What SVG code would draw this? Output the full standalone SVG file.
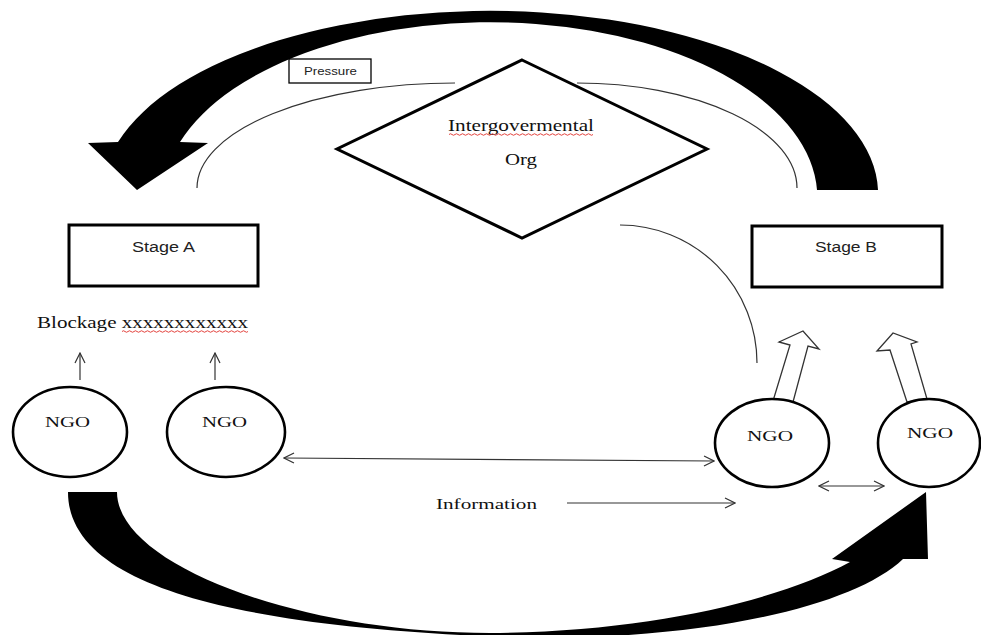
<svg xmlns="http://www.w3.org/2000/svg" width="981" height="635" viewBox="0 0 981 635">
<defs>
<style>
.serif{font-family:"Liberation Serif","Times New Roman",serif;fill:#111;}
.sans{font-family:"Liberation Sans",Arial,sans-serif;fill:#222;}
.box{fill:#fff;stroke:#000;stroke-width:3;}
.ngo{fill:#fff;stroke:#000;stroke-width:2.6;}
.thin{fill:none;stroke:#333;stroke-width:1.2;}
.big{fill:#000;stroke:none;}
.hollow{fill:#fff;stroke:#333;stroke-width:1.3;stroke-linejoin:miter;}
.squig{fill:none;stroke:#e0302a;stroke-width:0.9;}
</style>
<marker id="v" viewBox="0 0 12 12" refX="11" refY="6" markerWidth="12" markerHeight="12" markerUnits="userSpaceOnUse" orient="auto-start-reverse">
<path d="M1,1 L11,6 L1,11" fill="none" stroke="#333" stroke-width="1.2"/>
</marker>
</defs>

<g id="connectors">
<path id="top-arrow" class="big" d="M878,190 A388,183 0 0 0 118,142 L88,143 L137,190 L208,143 L180,142 A327,175 0 0 1 817,190 Z"/>
<path id="bottom-arrow" class="big" d="M68,492 L117,492 C117,565 300,633 490,633 C650,632 780,600 850,562 L832,559 L926,492 L928,559 L903,559 C850,610 680,646 480,636 C250,625 68,590 68,492 Z"/>
<path class="thin" d="M455,83 A258,105 0 0 0 197,188"/>
<path class="thin" d="M577,83 A220,105 0 0 1 797,188"/>
<path class="thin" d="M620,225 A137,138 0 0 1 757,363"/>
<line class="thin" x1="80" y1="380" x2="80" y2="353" marker-end="url(#v)"/>
<line class="thin" x1="215" y1="380" x2="215" y2="353" marker-end="url(#v)"/>
<line class="thin" x1="284" y1="458" x2="714" y2="461" marker-start="url(#v)" marker-end="url(#v)"/>
<line class="thin" x1="567" y1="503" x2="735" y2="503" marker-end="url(#v)"/>
<line class="thin" x1="819" y1="486" x2="884" y2="486" marker-start="url(#v)" marker-end="url(#v)"/>
<polygon class="hollow" points="773,401 790,345 779,342 803,331 819,349 808,346 793,402"/>
<polygon class="hollow" points="907,402 890,350 877,351 893,333 917,342 911,344 927,399"/>
</g>

<g id="pressure">
<rect x="289" y="59" width="82" height="24" fill="#fff" stroke="#000" stroke-width="1.3"/>
<text class="sans" x="304" y="75" font-size="11" textLength="53" lengthAdjust="spacingAndGlyphs">Pressure</text>
</g>

<g id="igo">
<polygon class="box" points="522,60 707,149 522,238 337,149"/>
<text class="serif" x="448" y="131" font-size="17" textLength="146" lengthAdjust="spacingAndGlyphs">Intergovermental</text>
<path class="squig" d="M449,134.5 q1.5,-1.5 3,0 t3,0 t3,0 t3,0 t3,0 t3,0 t3,0 t3,0 t3,0 t3,0 t3,0 t3,0 t3,0 t3,0 t3,0 t3,0 t3,0 t3,0 t3,0 t3,0 t3,0 t3,0 t3,0 t3,0 t3,0 t3,0 t3,0 t3,0 t3,0 t3,0 t3,0 t3,0 t3,0 t3,0 t3,0 t3,0 t3,0 t3,0 t3,0 t3,0 t3,0 t3,0 t3,0 t3,0 t3,0 t3,0 t3,0 t3,0"/>
<text class="serif" x="505" y="165" font-size="17" textLength="32" lengthAdjust="spacingAndGlyphs">Org</text>
</g>

<g id="stage-a">
<rect class="box" x="69" y="225" width="189" height="61"/>
<text class="sans" x="132" y="252" font-size="14" textLength="63" lengthAdjust="spacingAndGlyphs">Stage A</text>
</g>

<g id="stage-b">
<rect class="box" x="752" y="226" width="190" height="61"/>
<text class="sans" x="815" y="252" font-size="14" textLength="62" lengthAdjust="spacingAndGlyphs">Stage B</text>
</g>

<g id="blockage">
<text class="serif" x="37" y="328" font-size="17" textLength="211" lengthAdjust="spacingAndGlyphs">Blockage xxxxxxxxxxxx</text>
<path class="squig" d="M122,331.5 q1.5,-1.5 3,0 t3,0 t3,0 t3,0 t3,0 t3,0 t3,0 t3,0 t3,0 t3,0 t3,0 t3,0 t3,0 t3,0 t3,0 t3,0 t3,0 t3,0 t3,0 t3,0 t3,0 t3,0 t3,0 t3,0 t3,0 t3,0 t3,0 t3,0 t3,0 t3,0 t3,0 t3,0 t3,0 t3,0 t3,0 t3,0 t3,0 t3,0 t3,0 t3,0 t3,0 t3,0"/>
</g>

<g id="ngo-1">
<ellipse class="ngo" cx="70" cy="432" rx="57" ry="45"/>
<text class="serif" x="45" y="427" font-size="15" textLength="45" lengthAdjust="spacingAndGlyphs">NGO</text>
</g>
<g id="ngo-2">
<ellipse class="ngo" cx="226" cy="432" rx="59" ry="45"/>
<text class="serif" x="202" y="427" font-size="15" textLength="45" lengthAdjust="spacingAndGlyphs">NGO</text>
</g>
<g id="ngo-3">
<ellipse class="ngo" cx="772" cy="443" rx="57" ry="44"/>
<text class="serif" x="747" y="441" font-size="15" textLength="46" lengthAdjust="spacingAndGlyphs">NGO</text>
</g>
<g id="ngo-4">
<ellipse class="ngo" cx="929" cy="443" rx="51" ry="44"/>
<text class="serif" x="907" y="438" font-size="15" textLength="46" lengthAdjust="spacingAndGlyphs">NGO</text>
</g>

<g id="information">
<text class="serif" x="436" y="509" font-size="15" textLength="101" lengthAdjust="spacingAndGlyphs">Information</text>
</g>
</svg>
